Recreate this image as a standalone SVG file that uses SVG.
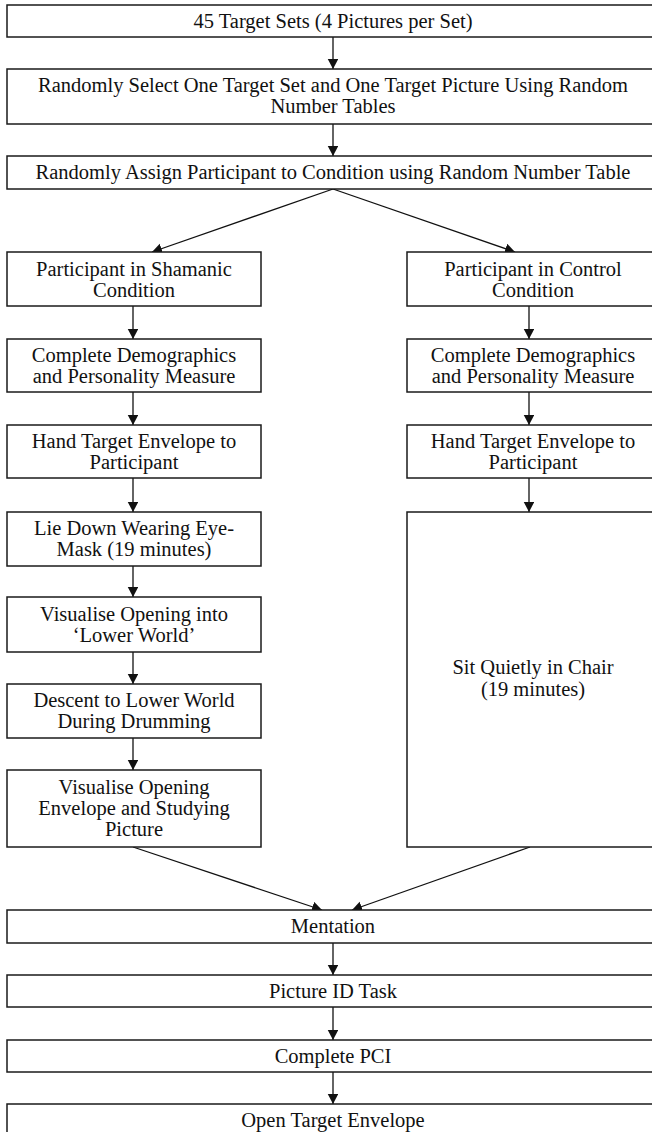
<svg xmlns="http://www.w3.org/2000/svg" width="652" height="1132" viewBox="0 0 652 1132">
<style>
.box{fill:#fff;stroke:#1a1a1a;stroke-width:1.5}
.t{font-family:"Liberation Serif","Times New Roman",serif;font-size:20.5px;fill:#111;text-anchor:middle}
.c{stroke:#111;stroke-width:1.3;fill:none;marker-end:url(#ah)}
</style>
<defs>
<marker id="ah" markerUnits="userSpaceOnUse" markerWidth="11" markerHeight="11" refX="10" refY="5.25" orient="auto">
<path d="M0,0 L10,5.25 L0,10.5 Z" fill="#111"/>
</marker>
</defs>
<rect width="652" height="1132" fill="#fff"/>
<g id="connectors">
<line class="c" x1="333" y1="37" x2="333" y2="69"/>
<line class="c" x1="333" y1="124" x2="333" y2="156"/>
<line class="c" x1="333" y1="189" x2="152" y2="252"/>
<line class="c" x1="333" y1="189" x2="515" y2="252"/>
<line class="c" x1="133" y1="306" x2="133" y2="339"/>
<line class="c" x1="133" y1="392" x2="133" y2="425"/>
<line class="c" x1="133" y1="478" x2="133" y2="512"/>
<line class="c" x1="133" y1="566" x2="133" y2="597"/>
<line class="c" x1="133" y1="652" x2="133" y2="684"/>
<line class="c" x1="133" y1="738" x2="133" y2="770"/>
<line class="c" x1="529" y1="306" x2="529" y2="339"/>
<line class="c" x1="529" y1="392" x2="529" y2="425"/>
<line class="c" x1="529" y1="478" x2="529" y2="512"/>
<line class="c" x1="133" y1="847" x2="322" y2="910"/>
<line class="c" x1="530" y1="847" x2="352" y2="910"/>
<line class="c" x1="333" y1="943" x2="333" y2="975"/>
<line class="c" x1="333" y1="1007" x2="333" y2="1040"/>
<line class="c" x1="333" y1="1072" x2="333" y2="1104"/>
</g>
<g id="n1"><rect class="box" x="7" y="5" width="652" height="32"/><text class="t" x="333" y="28">45 Target Sets (4 Pictures per Set)</text></g>
<g id="n2"><rect class="box" x="7" y="69" width="652" height="55"/><text class="t" x="333" y="92">Randomly Select One Target Set and One Target Picture Using Random</text><text class="t" x="333" y="113">Number Tables</text></g>
<g id="n3"><rect class="box" x="7" y="156" width="652" height="33"/><text class="t" x="333" y="179">Randomly Assign Participant to Condition using Random Number Table</text></g>
<g id="s1"><rect class="box" x="7" y="252" width="254" height="54"/><text class="t" x="134" y="275.5">Participant in Shamanic</text><text class="t" x="134" y="296.5">Condition</text></g>
<g id="s2"><rect class="box" x="7" y="339" width="254" height="53"/><text class="t" x="134" y="362">Complete Demographics</text><text class="t" x="134" y="383">and Personality Measure</text></g>
<g id="s3"><rect class="box" x="7" y="425" width="254" height="53"/><text class="t" x="134" y="448">Hand Target Envelope to</text><text class="t" x="134" y="469">Participant</text></g>
<g id="s4"><rect class="box" x="7" y="512" width="254" height="54"/><text class="t" x="134" y="535">Lie Down Wearing Eye-</text><text class="t" x="134" y="556">Mask (19 minutes)</text></g>
<g id="s5"><rect class="box" x="7" y="597" width="254" height="55"/><text class="t" x="134" y="620.5">Visualise Opening into</text><text class="t" x="134" y="641.5">‘Lower World’</text></g>
<g id="s6"><rect class="box" x="7" y="684" width="254" height="54"/><text class="t" x="134" y="707">Descent to Lower World</text><text class="t" x="134" y="728">During Drumming</text></g>
<g id="s7"><rect class="box" x="7" y="770" width="254" height="77"/><text class="t" x="134" y="794">Visualise Opening</text><text class="t" x="134" y="815">Envelope and Studying</text><text class="t" x="134" y="836">Picture</text></g>
<g id="c1"><rect class="box" x="407" y="252" width="252" height="54"/><text class="t" x="533" y="275.5">Participant in Control</text><text class="t" x="533" y="296.5">Condition</text></g>
<g id="c2"><rect class="box" x="407" y="339" width="252" height="53"/><text class="t" x="533" y="362">Complete Demographics</text><text class="t" x="533" y="383">and Personality Measure</text></g>
<g id="c3"><rect class="box" x="407" y="425" width="252" height="53"/><text class="t" x="533" y="448">Hand Target Envelope to</text><text class="t" x="533" y="469">Participant</text></g>
<g id="c4"><rect class="box" x="407" y="512" width="252" height="335"/><text class="t" x="533" y="674">Sit Quietly in Chair</text><text class="t" x="533" y="696">(19 minutes)</text></g>
<g id="m1"><rect class="box" x="7" y="910" width="652" height="33"/><text class="t" x="333" y="933">Mentation</text></g>
<g id="m2"><rect class="box" x="7" y="975" width="652" height="32"/><text class="t" x="333" y="998">Picture ID Task</text></g>
<g id="m3"><rect class="box" x="7" y="1040" width="652" height="32"/><text class="t" x="333" y="1063">Complete PCI</text></g>
<g id="m4"><rect class="box" x="7" y="1104" width="652" height="40"/><text class="t" x="333" y="1127">Open Target Envelope</text></g>
</svg>
